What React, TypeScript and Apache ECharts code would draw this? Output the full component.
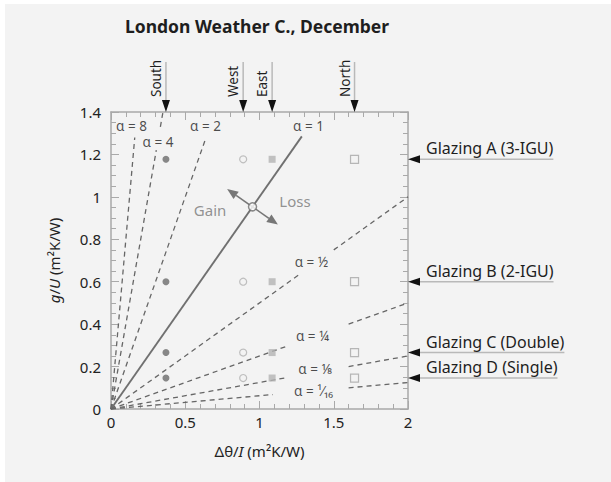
import React, { useEffect, useRef } from 'react';
import * as echarts from 'echarts';

// ---- data ----
const orientations = ['South', 'West', 'East', 'North'];
const orientationX = [0.37, 0.89, 1.085, 1.64];

const glazings = ['Glazing A (3-IGU)', 'Glazing B (2-IGU)', 'Glazing C (Double)', 'Glazing D (Single)'];
const glazingY = [1.177, 0.6, 0.266, 0.146];

const alphaLabels = ['α = 8', 'α = 4', 'α = 2', 'α = 1', 'α = ½', 'α = ¼', 'α = ⅛', 'α = ¹⁄₁₆'];
const alphaValues = [8, 4, 2, 1, 0.5, 0.25, 0.125, 0.0625];
// visible x-ranges of each α line (gaps where the labels sit)
const alphaSegments: number[][][] = [
  [[0, 0.16]],
  [[0, 0.305], [0.3325, 0.35]],
  [[0, 0.635]],
  [[0, 1.285]],
  [[0, 1.27], [1.5, 2]],
  [[0, 1.19], [1.6, 2]],
  [[0, 1.17], [1.6, 2]],
  [[0, 1.09], [1.6, 2]],
];
const alphaLabelAnchors = [
  [0.138, 1.334], [0.316, 1.259], [0.636, 1.334], [1.33, 1.334],
  [1.35, 0.693], [1.357, 0.344], [1.377, 0.189], [1.364, 0.085],
];
const flowLabels = ['Gain', 'Loss'];
const flowLabelAnchors = [[0.667, 0.938], [1.239, 0.981]];
const crossoverPoint = [0.953, 0.953];

const xMin = 0, xMax = 2, xStep = 0.5;
const yMin = 0, yMax = 1.4, yStep = 0.2;

const FONT = '"Noto Sans", "Open Sans", sans-serif';

export default function App() {
  const ref = useRef<HTMLDivElement>(null);

  useEffect(() => {
    const el = ref.current!;
    const chart = echarts.init(el, null, { renderer: 'svg' });
    const axisColor = '#a9a9a9';
    const gridL = 111, gridR = 408, gridT = 112, gridB = 409;

    const series: any[] = [];
    alphaValues.forEach((a, i) => {
      alphaSegments[i].forEach(([x0, x1]) => {
        series.push({
          type: 'line',
          data: [[x0, a * x0], [x1, a * x1]],
          symbol: 'none',
          silent: true,
          z: 2,
          lineStyle: a === 1
            ? { color: '#707070', width: 1.9 }
            : { color: '#666666', width: 1.3, type: [5, 4] },
        });
      });
    });

    const markerStyles = [
      { symbol: 'circle', symbolSize: 7, itemStyle: { color: '#6c6c6c' } },
      { symbol: 'circle', symbolSize: 7, itemStyle: { color: '#f3f3f3', borderColor: '#b0b0b0', borderWidth: 1.2 } },
      { symbol: 'rect', symbolSize: 7, itemStyle: { color: '#b3b3b3' } },
      { symbol: 'rect', symbolSize: 8, itemStyle: { color: '#f3f3f3', borderColor: '#a6a6a6', borderWidth: 1.2 } },
    ];
    orientations.forEach((o, i) => {
      series.push({
        type: 'scatter',
        name: o,
        data: glazingY.map((y) => [orientationX[i], y]),
        z: 4,
        silent: true,
        ...markerStyles[i],
      });
    });

    series.push({
      type: 'scatter',
      data: [crossoverPoint],
      symbol: 'circle',
      symbolSize: 8,
      z: 6,
      silent: true,
      itemStyle: { color: '#ffffff', borderColor: '#6e6e6e', borderWidth: 1.5 },
    });

    series.push({
      type: 'scatter',
      data: alphaLabelAnchors,
      symbolSize: 1,
      itemStyle: { color: 'rgba(0,0,0,0)' },
      silent: true,
      z: 5,
      label: {
        show: true,
        position: 'inside',
        formatter: (p: any) => alphaLabels[p.dataIndex],
        color: '#1e1e1e',
        fontSize: 13.5,
        fontFamily: FONT,
      },
    });
    series.push({
      type: 'scatter',
      data: flowLabelAnchors,
      symbolSize: 1,
      itemStyle: { color: 'rgba(0,0,0,0)' },
      silent: true,
      z: 5,
      label: {
        show: true,
        position: 'inside',
        formatter: (p: any) => flowLabels[p.dataIndex],
        color: '#777777',
        fontSize: 15,
        fontFamily: FONT,
      },
    });

    const baseAxis = {
      type: 'value',
      axisLine: { show: true, onZero: false, lineStyle: { color: axisColor, width: 1.5 } },
      axisTick: { show: true, inside: true, length: 8, lineStyle: { color: axisColor, width: 1 } },
      minorTick: { show: true, length: 5, lineStyle: { color: axisColor, width: 1 } },
      splitLine: { show: false },
      minorSplitLine: { show: false },
    };
    const labelStyle = { color: '#222', fontSize: 15, fontFamily: FONT };
    const fmt = (v: number) => String(+v.toFixed(2));

    chart.setOption({
      animation: false,
      backgroundColor: 'transparent',
      grid: { left: gridL, right: 611 - gridR, top: gridT, bottom: 482 - gridB, containLabel: false },
      xAxis: [
        {
          ...baseAxis, min: xMin, max: xMax, interval: xStep, position: 'bottom',
          minorTick: { ...baseAxis.minorTick, splitNumber: 5 },
          axisLabel: { ...labelStyle, margin: 5, formatter: fmt },
          name: '{n|Δθ/}{i|I}{n| (m²K/W)}',
          nameLocation: 'middle',
          nameGap: 34,
          nameTextStyle: {
            rich: {
              n: { fontSize: 15, color: '#222', fontFamily: FONT },
              i: { fontSize: 15, color: '#222', fontFamily: FONT, fontStyle: 'italic' },
            },
          },
        },
        {
          ...baseAxis, min: xMin, max: xMax, interval: xStep, position: 'top',
          minorTick: { ...baseAxis.minorTick, splitNumber: 5 },
          axisLabel: { show: false },
        },
      ],
      yAxis: [
        {
          ...baseAxis, min: yMin, max: yMax, interval: yStep, position: 'left',
          minorTick: { ...baseAxis.minorTick, splitNumber: 4 },
          axisLabel: { ...labelStyle, margin: 10, formatter: fmt },
          name: '{i|g}{n|/}{i|U}{n| (m²K/W)}',
          nameLocation: 'middle',
          nameGap: 50,
          nameRotate: 90,
          nameTextStyle: {
            rich: {
              n: { fontSize: 15, color: '#222', fontFamily: FONT },
              i: { fontSize: 15, color: '#222', fontFamily: FONT, fontStyle: 'italic' },
            },
          },
        },
        {
          ...baseAxis, min: yMin, max: yMax, interval: yStep, position: 'right',
          minorTick: { ...baseAxis.minorTick, splitNumber: 4 },
          axisLabel: { show: false },
        },
      ],
      series,
    });

    // ---- annotations positioned through the axes ----
    const px = (x: number) => chart.convertToPixel({ xAxisIndex: 0 }, x) as number;
    const py = (y: number) => chart.convertToPixel({ yAxisIndex: 0 }, y) as number;
    const canvas = document.createElement('canvas');
    const ctx = canvas.getContext('2d')!;
    const glazingFont = 16;
    ctx.font = `${glazingFont}px "Noto Sans"`;

    const graphics: any[] = [
      {
        type: 'text', x: 257, y: 26, z: 10,
        style: { text: 'London Weather C., December', align: 'center', verticalAlign: 'middle', fontSize: 17.5, fontWeight: 'bold', fontFamily: FONT, fill: '#1e1e1e' },
      },
    ];

    orientations.forEach((o, i) => {
      const x = px(orientationX[i]);
      const top = py(yMax);
      graphics.push(
        { type: 'line', z: 10, shape: { x1: x, y1: 62, x2: x, y2: top - 11 }, style: { stroke: '#b9b9b9', lineWidth: 1.5 } },
        { type: 'polygon', z: 11, shape: { points: [[x - 4, top - 12], [x + 4, top - 12], [x, top]] }, style: { fill: '#111' } },
        {
          type: 'text', z: 11, x: x - 3, y: top - 15, rotation: Math.PI / 2,
          style: { text: o, align: 'left', verticalAlign: 'bottom', fontSize: 13.5, fontFamily: FONT, fill: '#1e1e1e' },
        },
      );
    });

    glazings.forEach((g, i) => {
      const y = py(glazingY[i]);
      const right = px(xMax);
      const labelX = right + 18;
      const w = ctx.measureText(g).width;
      graphics.push(
        { type: 'polygon', z: 11, shape: { points: [[right, y], [right + 12, y - 4], [right + 12, y + 4]] }, style: { fill: '#111' } },
        { type: 'line', z: 10, shape: { x1: right + 11, y1: y, x2: labelX + w, y2: y }, style: { stroke: '#b9b9b9', lineWidth: 1.5 } },
        {
          type: 'text', z: 11, x: labelX, y: y - 3,
          style: { text: g, align: 'left', verticalAlign: 'bottom', fontSize: glazingFont, fontFamily: FONT, fill: '#1e1e1e' },
        },
      );
    });

    // gain / loss double arrow, perpendicular to the α = 1 line
    const cx = px(crossoverPoint[0]);
    const cy = py(crossoverPoint[1]);
    const dx = px(1) - px(0);
    const dy = py(1) - py(0);
    const len = Math.hypot(dx, dy);
    const nx = -dy / len, ny = dx / len; // perpendicular
    const L = 31, head = 11, hw = 4.5;
    const arrowColor = '#777';
    [1, -1].forEach((s) => {
      const tipX = cx + s * nx * L, tipY = cy + s * ny * L;
      const bX = cx + s * nx * (L - head), bY = cy + s * ny * (L - head);
      graphics.push(
        { type: 'line', z: 5, shape: { x1: cx, y1: cy, x2: bX, y2: bY }, style: { stroke: arrowColor, lineWidth: 1.6 } },
        {
          type: 'polygon', z: 5,
          shape: { points: [[tipX, tipY], [bX + ny * hw, bY - nx * hw], [bX - ny * hw, bY + nx * hw]] },
          style: { fill: arrowColor },
        },
      );
    });

    chart.setOption({ graphic: graphics });

    return () => chart.dispose();
  }, []);

  return (
    <div style={{ position: 'fixed', left: 0, top: 0, right: 0, bottom: 0, background: '#f3f3f3', overflow: 'hidden' }}>
      <div style={{ position: 'absolute', left: 0, top: 0, width: 5, height: 2000, background: '#ffffff' }} />
      <div style={{ position: 'absolute', left: 0, top: 0, width: 2000, height: 4, background: '#ffffff' }} />
      <div ref={ref} style={{ position: 'absolute', left: 0, top: 0, width: 611, height: 482 }} />
    </div>
  );
}
